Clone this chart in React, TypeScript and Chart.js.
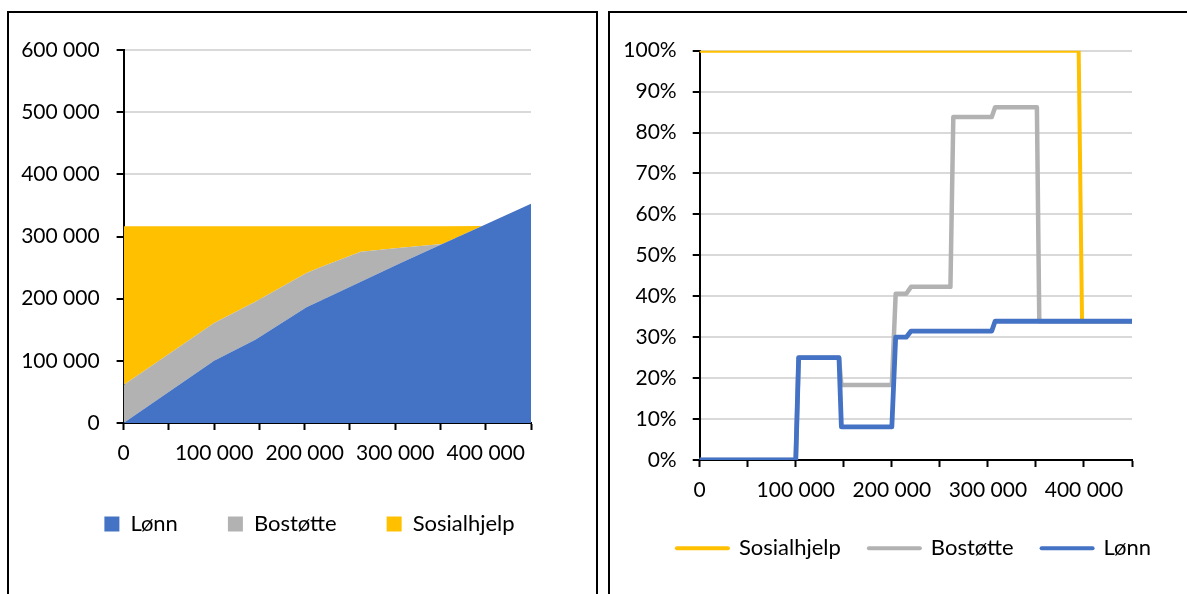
import React, { useEffect, useRef } from 'react';
import { Chart, registerables } from 'chart.js';

Chart.register(...registerables);

// ---- Left chart: stacked amounts (kr) ----
const incomeX = [0, 100000, 146000, 202000, 218000, 262000, 306000, 352000, 396000, 450000];
const lonnAmount = [0, 100000, 134500, 186000, 197200, 227300, 257400, 287800, 316900, 352600];
const bostotteAmount = [61000, 61000, 61000, 55300, 53600, 48000, 24500, 0, 0, 0];
const sosialhjelpAmount = [255500, 155500, 121000, 75200, 65700, 41200, 34600, 28700, 0, 0];

// ---- Right chart: marginal rates (%) ----
const sosialhjelpRateX = [0, 394500, 398000, 450000];
const sosialhjelpRate = [100, 100, 33.9, 33.9];
const bostotteRateX = [0, 100000, 103000, 145000, 147500, 200000, 204000, 215000, 220000, 261000, 264000, 304000, 307500, 351000, 353500, 450000];
const bostotteRate = [0, 0, 25, 25, 18.3, 18.3, 40.6, 40.6, 42.3, 42.3, 83.8, 83.8, 86.2, 86.2, 33.9, 33.9];
const lonnRateX = [0, 100000, 103000, 145000, 147500, 200000, 204000, 215000, 220000, 304000, 307500, 450000];
const lonnRate = [0, 0, 25, 25, 8.1, 8.1, 30, 30, 31.5, 31.5, 33.9, 33.9];

const xTickValues = [0, 100000, 200000, 300000, 400000];

const BLUE = '#4472C4';
const GRAY = '#B2B2B2';
const YELLOW = '#FFC000';
const FONT = { family: 'Lato', size: 21 };
const LEGEND_FONT = { family: 'Lato', size: 22 };
const TEXT = '#000000';

const fmt = (v: number) => String(v).replace(/\B(?=(\d{3})+(?!\d))/g, ' ');
const pts = (xs: number[], ys: number[]) => xs.map((x, i) => ({ x, y: ys[i] }));

function xScale(height: number) {
  return {
    type: 'linear' as const,
    min: 0,
    max: 450000,
    afterFit: (s: any) => { s.height = height; },
    ticks: {
      stepSize: 50000,
      autoSkip: false,
      maxRotation: 0,
      font: FONT,
      color: TEXT,
      padding: 11,
      callback: (v: any) => (xTickValues.includes(Number(v)) ? fmt(Number(v)) : ''),
    },
    grid: { drawOnChartArea: false, tickLength: 7, tickColor: '#000', tickWidth: 2 },
    border: { color: '#000', width: 2 },
  };
}

// empty spacer axis on the right, reserves room beside the plot
function spacer(width: number) {
  return {
    type: 'linear' as const,
    position: 'right' as const,
    display: true,
    afterFit: (s: any) => { s.width = width; },
    ticks: { display: false },
    grid: { display: false, drawTicks: false },
    border: { display: false },
  };
}

function AreaChart() {
  const ref = useRef<HTMLCanvasElement>(null);
  useEffect(() => {
    const chart = new Chart(ref.current!, {
      type: 'line',
      data: {
        datasets: [
          { label: 'Lønn', data: pts(incomeX, lonnAmount), backgroundColor: BLUE, borderColor: BLUE, borderWidth: 0, fill: 'origin', pointRadius: 0 },
          { label: 'Bostøtte', data: pts(incomeX, bostotteAmount), backgroundColor: GRAY, borderColor: GRAY, borderWidth: 0, fill: '-1', pointRadius: 0 },
          { label: 'Sosialhjelp', data: pts(incomeX, sosialhjelpAmount), backgroundColor: YELLOW, borderColor: YELLOW, borderWidth: 0, fill: '-1', pointRadius: 0 },
        ],
      },
      options: {
        responsive: false,
        animation: false,
        devicePixelRatio: 1,
        events: [],
        layout: { padding: { left: 19, right: 0, top: 37, bottom: 49 } },
        plugins: {
          tooltip: { enabled: false },
          legend: {
            position: 'bottom',
            labels: { boxWidth: 15, boxHeight: 15, padding: 50, font: LEGEND_FONT, color: TEXT },
          },
        },
        scales: {
          x: xScale(40),
          y: {
            stacked: true,
            min: 0,
            max: 600000,
            afterFit: (s: any) => { s.width = 104.6; },
            ticks: { stepSize: 100000, font: FONT, color: TEXT, padding: 17, callback: (v: any) => fmt(Number(v)) },
            grid: { color: '#D9D9D9', lineWidth: 2, tickLength: 7, tickColor: '#000', tickWidth: 2 },
            border: { color: '#000', width: 2 },
          },
          pad: spacer(69),
        },
      } as any,
    });
    return () => chart.destroy();
  }, []);
  return <canvas ref={ref} width={600} height={581} style={{ position: 'absolute', left: 0, top: 13 }} />;
}

function RateChart() {
  const ref = useRef<HTMLCanvasElement>(null);
  useEffect(() => {
    const common = { pointRadius: 0, fill: false, tension: 0, borderJoinStyle: 'round', borderCapStyle: 'round' };
    const chart = new Chart(ref.current!, {
      type: 'line',
      data: {
        datasets: [
          { label: 'Lønn', data: pts(lonnRateX, lonnRate), borderColor: BLUE, backgroundColor: BLUE, borderWidth: 4.8, ...common },
          { label: 'Bostøtte', data: pts(bostotteRateX, bostotteRate), borderColor: GRAY, backgroundColor: GRAY, borderWidth: 4.5, ...common },
          { label: 'Sosialhjelp', data: pts(sosialhjelpRateX, sosialhjelpRate), borderColor: YELLOW, backgroundColor: YELLOW, borderWidth: 4, ...common },
        ],
      },
      options: {
        responsive: false,
        animation: false,
        devicePixelRatio: 1,
        events: [],
        layout: { padding: { left: 10, right: 0, top: 37.7, bottom: 24.7 } },
        plugins: {
          tooltip: { enabled: false },
          legend: {
            position: 'bottom',
            reverse: true,
            labels: {
              usePointStyle: true,
              pointStyle: 'line',
              pointStyleWidth: 51,
              padding: 28,
              font: LEGEND_FONT,
              color: TEXT,
              generateLabels: (c: any) =>
                (Chart as any).defaults.plugins.legend.labels.generateLabels(c).map((l: any) => ({
                  ...l,
                  lineCap: 'round',
                  lineWidth: 4,
                  strokeStyle: c.data.datasets[l.datasetIndex].borderColor,
                })),
            },
          },
        },
        scales: {
          x: xScale(49.3),
          y: {
            min: 0,
            max: 100,
            afterFit: (s: any) => { s.width = 89.7; },
            ticks: { stepSize: 10, font: FONT, color: TEXT, padding: 16, callback: (v: any) => `${v}%` },
            grid: { color: '#D9D9D9', lineWidth: 2, tickLength: 7, tickColor: '#000', tickWidth: 2 },
            border: { color: '#000', width: 2 },
          },
          pad: spacer(86),
        },
      } as any,
    });
    return () => chart.destroy();
  }, []);
  return <canvas ref={ref} width={618} height={581} style={{ position: 'absolute', left: 600, top: 13 }} />;
}

export default function App() {
  const panel = (left: number, width: number): React.CSSProperties => ({
    position: 'absolute',
    left,
    top: 11,
    width,
    height: 700,
    border: '2px solid #000',
    boxSizing: 'border-box',
    background: '#fff',
  });
  return (
    <div style={{ position: 'absolute', left: 0, top: 0, width: 1187, height: 594, overflow: 'hidden', background: '#fff' }}>
      <div style={panel(7, 591)} />
      <div style={panel(608, 700)} />
      <AreaChart />
      <RateChart />
    </div>
  );
}
